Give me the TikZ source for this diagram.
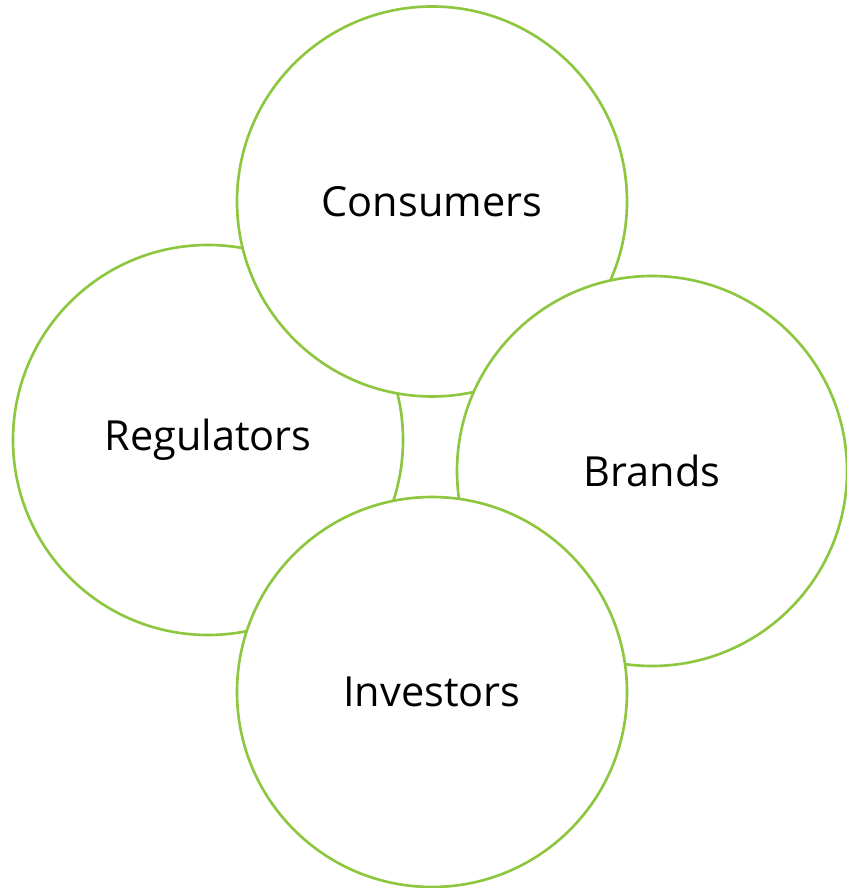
\documentclass[tikz,border=0pt]{standalone}
\usepackage{fontspec}
\setmainfont{Open Sans}
\usepackage{tikz}

\definecolor{leafgreen}{RGB}{141,198,63}

\begin{document}
\begin{tikzpicture}[party/.style={circle,draw=leafgreen,fill=white,line width=1.5pt,minimum size=7.8cm,inner sep=0pt,font=\fontsize{23.6}{28}\selectfont}]
    \useasboundingbox (0,0) rectangle (16.92,17.76);

    % drawing order sets which ring lies on top
    \node[party] (regulators) at (4.16,8.96) {Regulators};
    \node[party] (consumers) at (8.64,13.73) {Consumers};
    \node[party] (brands) at (13.04,8.34) {Brands};
    \node[party] (investors) at (8.64,3.92) {Investors};

\end{tikzpicture}
\end{document}
